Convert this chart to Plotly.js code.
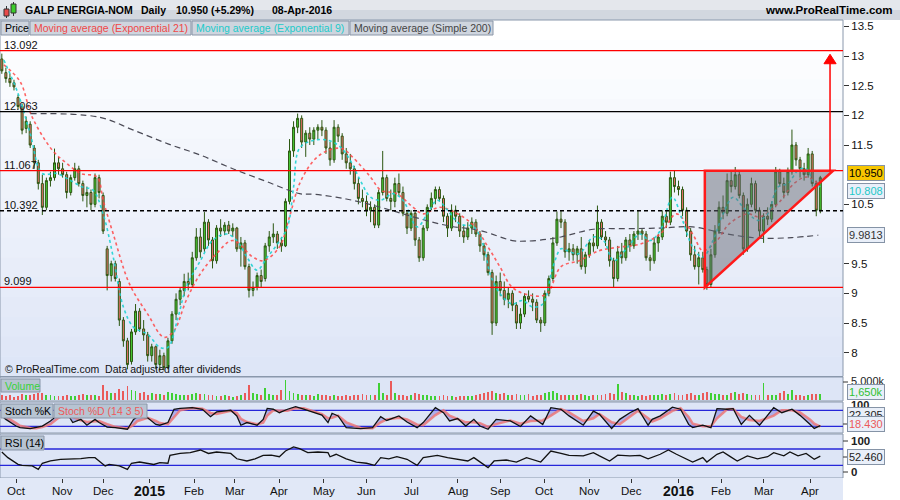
<!DOCTYPE html>
<html><head><meta charset="utf-8">
<script src="https://cdn.plot.ly/plotly-3.0.1.min.js"></script>
<style>html,body{margin:0;padding:0;background:#fff}#chart{width:900px;height:500px}</style>
</head><body><div id="chart"></div>
<script>
// ---------- DATA ----------
const startDate = '2014-09-22';   // first trading day shown
const nDays = 405;                // weekdays up to 08-Apr-2016
const monthLabels = ['Oct','Nov','Dec','2015','Feb','Mar','Apr','May','Jun','Jul','Aug','Sep','Oct','Nov','Dec','2016','Feb','Mar','Apr'];
// one candle per two trading days
const cOpen = [
12.95,12.72,12.62,12.55,12.30,12.15,11.78,11.85,11.45,11.20,
10.85,10.45,10.90,10.95,11.20,11.10,11.00,10.70,10.95,11.10,
10.85,10.65,10.70,10.50,10.95,10.65,9.75,9.30,9.50,9.20,
8.55,8.20,7.85,8.35,8.70,8.40,8.30,7.95,8.10,7.80,
7.95,7.75,8.20,8.65,8.90,9.05,9.20,9.15,9.60,9.95,
9.75,10.20,9.90,9.55,10.10,10.05,10.15,10.05,10.10,9.75,
9.85,9.45,9.05,9.10,9.30,9.25,9.80,9.95,10.00,9.85,
9.80,10.55,11.40,11.80,11.95,11.55,11.70,11.60,11.75,11.80,
11.75,11.45,11.25,11.80,11.65,11.35,11.20,11.10,10.85,10.60,
10.55,10.40,10.45,10.15,10.70,10.95,10.60,10.55,10.85,10.70,
10.35,10.10,10.35,9.90,9.60,10.10,10.45,10.60,10.75,10.60,
10.30,10.10,10.40,10.30,10.05,9.95,10.10,10.20,10.00,9.80,
9.65,9.35,8.50,9.20,9.05,8.90,9.00,8.80,8.50,8.65,
8.95,8.90,8.85,8.55,8.50,9.00,9.25,9.85,10.25,10.20,
9.70,9.75,9.65,9.75,9.45,9.65,9.85,9.80,10.20,9.95,
9.90,9.55,9.25,9.70,9.60,9.90,9.80,10.00,10.05,10.00,
9.60,9.55,9.85,9.95,10.30,10.20,10.95,10.80,10.75,10.40,
10.05,9.65,9.45,9.60,9.40,9.15,9.65,10.05,10.45,10.35,
10.90,10.80,11.00,10.65,9.75,10.50,10.85,10.40,10.05,10.30,
10.25,10.50,11.05,10.85,10.70,11.05,11.50,11.25,11.10,11.00,
11.35,10.85,10.40];
const cHigh = [
13.04,12.80,12.70,12.60,12.35,12.20,11.98,11.90,11.50,11.25,
11.00,10.95,11.05,11.44,11.30,11.20,11.05,11.00,11.20,11.15,
10.90,10.80,10.75,11.02,11.00,10.70,9.80,9.55,9.55,9.25,
8.60,8.25,8.40,8.82,8.75,8.55,8.35,8.15,8.12,8.05,
8.00,8.25,8.70,9.00,9.10,9.33,9.35,9.70,10.10,10.10,
10.37,10.25,9.95,10.15,10.25,10.20,10.22,10.18,10.12,9.95,
9.90,9.50,9.20,9.35,9.40,9.85,10.05,10.18,10.05,9.95,
10.60,11.60,11.90,12.03,12.00,11.75,11.80,11.80,11.85,11.92,
11.80,11.55,11.92,11.85,11.70,11.45,11.35,11.15,10.95,10.75,
10.65,10.55,10.50,10.75,11.40,11.00,10.75,10.95,11.02,10.80,
10.40,10.40,10.38,9.95,10.15,10.50,10.70,10.80,10.80,10.65,
10.35,10.50,10.48,10.35,10.15,10.20,10.28,10.25,10.05,9.85,
9.70,9.40,9.30,9.35,9.20,9.10,9.05,8.85,8.75,9.00,
9.05,9.00,8.90,8.60,9.05,9.30,9.95,10.38,10.40,10.25,
9.85,9.83,9.80,9.95,9.70,9.90,10.00,10.48,10.25,10.05,
9.95,9.60,9.80,9.85,9.95,10.00,10.05,10.40,10.10,10.05,
9.65,9.95,10.00,10.40,10.40,11.05,11.07,10.90,10.80,10.45,
10.10,9.80,9.70,9.70,9.45,9.75,10.15,10.55,10.65,11.02,
11.05,11.13,11.05,10.70,10.60,10.95,10.90,10.45,10.35,10.45,
10.55,11.13,11.10,10.95,11.12,11.76,11.55,11.30,11.20,11.45,
11.40,10.90,10.98];
const cLow = [
12.70,12.55,12.48,12.42,12.10,11.68,11.70,11.45,11.10,10.75,
10.32,10.40,10.80,10.90,11.00,10.95,10.60,10.65,10.90,10.80,
10.55,10.45,10.40,10.45,10.60,10.00,9.05,9.20,9.20,8.45,
8.10,7.72,7.80,8.30,8.35,8.20,7.85,7.85,7.72,7.70,
7.70,7.72,8.15,8.55,8.80,8.95,9.05,9.10,9.55,9.60,
9.70,9.80,9.42,9.50,9.95,9.98,10.00,9.95,9.70,9.45,
9.40,8.93,8.95,9.05,9.10,9.20,9.70,9.85,9.75,9.70,
9.78,10.50,11.30,11.70,11.45,11.30,11.50,11.50,11.60,11.65,
11.35,11.15,11.20,11.55,11.25,11.10,11.00,10.75,10.50,10.45,
10.30,10.20,10.10,10.10,10.65,10.55,10.40,10.45,10.65,10.30,
10.00,10.05,9.80,9.53,9.55,10.05,10.40,10.50,10.55,10.20,
9.95,10.05,10.20,9.95,9.85,9.90,10.00,9.95,9.70,9.55,
9.30,8.30,8.45,8.95,8.80,8.75,8.70,8.40,8.40,8.60,
8.85,8.70,8.50,8.35,8.45,8.95,9.20,9.80,10.10,9.60,
9.55,9.55,9.50,9.40,9.33,9.60,9.70,9.75,9.90,9.80,
9.45,9.10,9.20,9.50,9.55,9.70,9.75,9.90,9.90,9.55,
9.38,9.50,9.70,9.90,10.10,10.15,10.70,10.65,10.30,9.95,
9.55,9.40,9.15,9.35,9.06,9.10,9.60,10.00,10.25,10.30,
10.70,10.75,10.60,9.65,9.70,10.45,10.35,9.95,9.85,10.15,
10.20,10.45,10.80,10.60,10.65,11.00,11.15,10.95,10.90,10.95,
10.80,10.30,10.35];
const cClose = [
12.75,12.62,12.55,12.48,12.15,11.75,11.90,11.50,11.20,10.85,
10.45,10.90,10.95,11.20,11.10,11.00,10.70,10.95,11.10,10.85,
10.65,10.70,10.50,10.95,10.70,10.05,9.30,9.50,9.25,8.55,
8.20,7.80,8.35,8.70,8.40,8.30,7.95,8.10,7.80,7.95,
7.75,8.20,8.65,8.90,9.05,9.20,9.15,9.60,9.95,9.70,
10.20,9.90,9.55,10.10,10.05,10.15,10.05,10.10,9.75,9.85,
9.45,9.05,9.10,9.30,9.20,9.80,9.95,10.00,9.85,9.80,
10.55,11.40,11.80,11.95,11.55,11.70,11.60,11.75,11.80,11.75,
11.45,11.25,11.80,11.65,11.35,11.20,11.10,10.85,10.60,10.55,
10.40,10.45,10.15,10.70,10.95,10.60,10.55,10.85,10.70,10.35,
10.10,10.35,9.90,9.60,10.10,10.45,10.60,10.75,10.60,10.30,
10.10,10.40,10.30,10.05,9.95,10.10,10.20,10.00,9.80,9.65,
9.35,8.50,9.20,9.05,8.90,9.00,8.80,8.50,8.65,8.95,
8.90,8.85,8.55,8.50,9.00,9.25,9.85,10.25,10.20,9.70,
9.75,9.65,9.75,9.45,9.65,9.85,9.80,10.20,9.95,9.90,
9.55,9.25,9.70,9.60,9.90,9.80,10.00,10.05,10.00,9.60,
9.55,9.85,9.95,10.30,10.20,10.95,10.80,10.75,10.40,10.05,
9.65,9.45,9.60,9.40,9.15,9.65,10.05,10.45,10.35,10.90,
10.80,11.00,10.65,9.75,10.50,10.85,10.40,10.05,10.30,10.25,
10.50,11.05,10.85,10.70,11.05,11.50,11.25,11.10,11.00,11.35,
10.85,10.40,10.95];
const volumeK = [
1400,1100,1300,900,1200,1600,1300,1500,1700,1800,
2000,1500,1300,1200,1100,1000,1500,1200,1100,1300,
1600,1400,1500,1300,1200,4200,2500,1800,2000,3000,
2600,4000,2800,2400,1900,2200,1500,1800,1600,1700,
1500,2200,1800,1600,1500,1400,1300,1700,2000,1600,
1700,1500,1300,1200,1100,1300,1000,900,1200,1500,
1800,4200,2000,1600,1500,3300,1700,1500,1400,2800,
5500,2500,1800,1600,1500,1400,1300,1200,1600,1400,
1300,1200,1500,1100,1000,1300,1200,1400,1500,1600,
1300,1400,1300,4600,2000,1500,5300,1800,1500,1300,
1200,1400,1900,1700,1400,1300,1100,1000,1200,1300,
1200,1000,900,1100,1000,1200,1100,1400,1700,2000,
2200,2500,1800,1600,2000,1500,1400,1700,1300,1500,
1600,1200,1400,1500,1800,2200,2600,2000,1500,1400,
1400,1500,1300,1600,1500,1200,1400,1500,1300,1700,
1800,1600,4400,2200,1800,1500,1400,1200,1300,1100,
1500,1300,1400,1600,1500,1700,2000,1500,1300,1600,
1800,1400,1500,2000,2200,1800,1600,1700,1500,1400,
1800,2200,1600,2000,1600,1500,1400,1300,4800,1500,
1400,1300,1800,2600,1700,2800,1500,1300,1200,1500,
1600,1700,1650];
// moving averages (trading-day index, value)
const ema21Day = [1,9,15,25,32,39,47,50,55,63,72,80,85,91,98,106,114,124,129,137,142,147,154,161,168,173,182,187,195,203,208,216,225,233,240,246,252,262,269,276,285,295,305,315,325,333,341,346,353,359,368,374,383,391,397,403];
const ema21Val = [12.85,12.57,11.97,11.41,11.19,11.02,10.96,10.57,10.0,9.16,8.65,8.26,8.37,8.88,9.33,9.67,9.89,9.61,9.55,9.78,10.29,10.85,11.24,11.41,11.44,11.3,10.96,10.74,10.68,10.45,10.34,10.45,10.34,10.14,9.78,9.44,9.1,8.96,8.99,9.45,9.55,9.72,9.78,9.83,10.0,10.34,10.0,9.72,9.89,10.17,10.34,10.29,10.51,10.85,10.96,10.85];
const ema9Day = [1,8,14,20,27,34,40,45,50,55,60,65,72,78,82,87,91,98,104,111,116,121,126,131,136,141,144,147,154,161,167,172,177,182,187,193,198,205,210,215,220,226,233,238,241,246,252,257,262,267,272,276,279,285,292,297,302,309,315,320,325,331,336,341,346,351,356,361,366,373,378,383,388,393,397,402,404];
const ema9Val = [12.93,12.37,11.69,11.02,11.02,10.9,10.79,10.74,10.34,9.61,8.77,8.43,8.31,8.09,8.09,8.6,9.1,9.55,9.89,10.0,9.89,9.61,9.39,9.61,9.83,10.12,10.79,11.45,11.58,11.58,11.47,11.24,10.9,10.62,10.57,10.68,10.57,10.12,10.34,10.57,10.4,10.17,10.12,9.78,9.33,8.99,8.82,8.88,8.77,8.82,9.44,9.75,9.72,9.67,9.95,9.89,9.55,9.78,10.0,9.89,10.06,10.62,10.23,9.78,9.61,9.89,10.34,10.62,10.45,10.23,10.34,10.79,10.85,11.07,11.1,10.79,10.81];
const sma200Day = [14,48,65,82,98,114,131,147,154,170,187,203,220,236,252,259,269,276,292,309,325,341,358,374,390,403];
const sma200Val = [12.03,11.97,11.75,11.52,11.33,11.1,10.88,10.68,10.67,10.59,10.45,10.29,10.14,10.06,9.89,9.88,9.91,9.95,10.08,10.09,10.1,10.12,10.0,9.93,9.94,9.98];
// stochastic (14 3 5)
const stochDay = [0,2,7,9,14,17,20,24,28,32,35,39,42,46,48,52,56,62,65,67,72,76,78,82,85,88,94,99,103,106,113,116,118,121,126,129,131,134,137,141,145,149,154,158,161,163,166,170,177,183,187,190,196,200,205,208,214,218,221,225,229,233,236,240,244,251,256,261,267,271,276,280,287,292,295,301,305,310,314,319,321,325,331,335,339,341,346,350,353,358,361,365,369,374,381,385,390,394,399,401,404];
const stochK = [59,46,21,15,11,15,21,40,65,71,34,46,24,46,34,17,15,9,46,56,52,27,24,34,84,87,90,84,56,74,80,59,24,34,24,46,87,84,71,84,94,84,71,62,34,69,59,15,11,15,56,42,59,36,15,34,90,71,40,49,21,46,21,9,46,40,19,59,27,90,84,59,24,77,65,12,46,71,86,24,46,59,92,84,27,15,24,15,86,84,86,27,61,24,90,71,84,61,27,12,22.3];
const stochD = [62,55,32,22,14,13,17,28,52,66,55,42,36,38,40,28,18,12,25,40,52,40,32,28,55,80,89,86,70,66,78,70,48,36,28,34,60,80,78,78,88,88,76,66,50,52,60,35,14,13,35,46,52,46,26,24,62,80,60,48,35,35,32,18,28,42,30,40,42,60,84,72,40,50,66,35,28,56,78,50,38,50,78,88,55,30,20,20,50,84,85,55,44,40,60,80,80,72,45,30,18.43];
// RSI (14)
const rsiDay = [0,3,8,10,15,18,20,24,29,34,39,43,46,48,51,53,58,62,64,68,72,75,78,82,83,88,93,98,102,106,113,116,121,125,129,133,137,140,144,147,151,156,161,162,165,170,175,180,184,187,191,195,200,205,208,215,220,225,230,233,236,240,243,249,254,259,266,271,276,280,287,292,295,300,304,310,315,319,325,329,333,338,341,346,348,353,356,359,363,368,373,378,381,386,389,393,397,401,404];
const rsiVal = [62.6,48.8,32.4,30,28.4,20,35,40.6,44.7,44.7,46.3,48.8,48.8,40.6,28.4,32.4,28.4,20,35,38,35,32,36.5,35,54.5,59,61,67.5,59,62.6,59,46,40.6,46,54.5,55,51,65,75,71,61,62.6,61,51,57,46,38,35,30,48.8,46,51,44.7,30,48.8,54.5,48.8,44.7,40.6,48.8,38,24.3,40.6,43,38,48.8,38,65,59,54.5,53,61,53,40.6,55,53,54.5,46,57,67.5,57,44.7,38,48.8,38,57,62.6,53,40.6,53,46,51,61,53,62.6,53,59,44.7,52.46];
// reference levels and pattern
const levels = [13.092,12.063,11.067,10.392,9.099];
const levelColors = ['#ff0000','#000000','#ff0000','#000000','#ff0000'];
const triangleDays = [347,347,410.3];
const trianglePrices = [9.099,11.067,11.067];
const targetDay = 408.8, targetFrom = 11.067, targetTo = 13.03;
const priceTicks = [8,8.5,9,9.5,10.5,11.5,12,12.5,13,13.5];
const lastValues = {price:'10.950', ema9:'10.808', sma200:'9.9813', vol:'1,650k', volMax:'5,000k', stochK:'22.305', stochD:'18.430', rsi:'52.460'};
const titleParts = ['GALP ENERGIA-NOM','Daily','10.950 (+5.29%)','08-Apr-2016'];

// ---------- GEOMETRY ----------
const W=900,H=500, PR=843;
const fx=px=>px/W, fy=py=>1-py/H;
const FONT='Arial, Liberation Sans, sans-serif';

const days=[]; {let d=new Date(startDate+'T00:00:00Z'); while(days.length<nDays){const w=d.getUTCDay(); if(w>0&&w<6) days.push(new Date(d)); d.setUTCDate(d.getUTCDate()+1);} }
const monthIdx=[]; for(let i=1;i<days.length;i++){ if(days[i].getUTCMonth()!==days[i-1].getUTCMonth()) monthIdx.push(i); }
const cX = cClose.map((_,k)=>2*k);

const shapes=[], ann=[];
function rect(x0,y0,x1,y1,fill,line,layer,lw){shapes.push({type:'rect',xref:'paper',yref:'paper',x0:fx(x0),x1:fx(x1),y0:fy(y1),y1:fy(y0),fillcolor:fill,line:{color:line||'rgba(0,0,0,0)',width:line?(lw||1):0},layer:layer||'below'});}
function txt(px,py,text,size,color,opt){ann.push(Object.assign({xref:'paper',yref:'paper',x:fx(px),y:fy(py),xanchor:'left',yanchor:'middle',text:text,showarrow:false,font:{family:FONT,size:size,color:color}},opt||{}));}
function box(px,py,text,color,bg){ann.push({xref:'paper',yref:'paper',x:fx(px),y:fy(py),xanchor:'left',yanchor:'middle',text:text,showarrow:false,bgcolor:bg,bordercolor:'#8593a6',borderwidth:1,borderpad:1,font:{family:FONT,size:11,color:color}});}

// header bar
rect(0,0,900,10,'#e4e7ec'); rect(0,10,900,20,'#d2d7df');
// main panel gradient
const N=18; for(let b=0;b<N;b++){const t=b/(N-1); const c=[255-33*t,255-25*t,255-8*t].map(Math.round); rect(0,20+b*(356/N),PR,20+(b+1)*(356/N)+0.5,`rgb(${c})`);}
// lower panels
rect(0,377,PR,401,'#dde5f6','#8a98ac'); rect(0,402,PR,433,'#dde5f6','#8a98ac'); rect(0,434,PR,478,'#dde5f6','#8a98ac');
rect(0,478,PR,500,'#e1e8f7');
rect(0,20,PR,376.5,'rgba(0,0,0,0)','#8a98ac');
rect(0,376,PR,377,'#8a98ac');
// legend row boxes
[[1,29],[30,191],[192,349],[350,493]].forEach(b=>rect(b[0],21,b[1],35,'#cfd5de','#8a96a8','above'));
// panel label boxes
rect(1,379,40,392,'#b7c4d2','#8a96a8','above');
rect(1,404,53,418,'#b7c4d2','#8a96a8','above'); rect(54,404,147,418,'#b7c4d2','#8a96a8','above');
rect(1,436,44,450,'#b7c4d2','#8a96a8','above');
// icon
shapes.push({type:'line',xref:'paper',yref:'paper',x0:fx(6.5),x1:fx(6.5),y0:fy(18),y1:fy(6),line:{color:'#333',width:1}});
rect(4,9,9,16,'#e84a4a','#333','above');
shapes.push({type:'line',xref:'paper',yref:'paper',x0:fx(13.5),x1:fx(13.5),y0:fy(16),y1:fy(2),line:{color:'#333',width:1}});
rect(11,4,16,13,'#3ccc2c','#333','above');

// price levels
levels.forEach((v,i)=>shapes.push({type:'line',xref:'paper',yref:'y',x0:0,x1:fx(PR),y0:v,y1:v,line:{color:levelColors[i],width:1.3,dash:i===3?'4px,3px':'solid'},layer:'above'}));
// triangle
shapes.push({type:'path',xref:'x',yref:'y',path:`M ${triangleDays[0]},${trianglePrices[0]} L ${triangleDays[1]},${trianglePrices[1]} L ${triangleDays[2]},${trianglePrices[2]} Z`,fillcolor:'rgba(100,103,116,0.5)',line:{color:'#ff1a1a',width:2.5},layer:'above'});
// target arrow
shapes.push({type:'line',xref:'x',yref:'y',x0:targetDay,x1:targetDay,y0:targetFrom,y1:12.9,line:{color:'#ff0000',width:1.5},layer:'above'});
shapes.push({type:'path',xref:'x',yref:'y',path:`M ${targetDay-3},12.87 L ${targetDay+3},12.87 L ${targetDay},${targetTo} Z`,fillcolor:'#ff0000',line:{color:'#ff0000',width:1},layer:'above'});
// stoch / rsi guide lines
[80,20].forEach(v=>shapes.push({type:'line',xref:'paper',yref:'y3',x0:0,x1:fx(PR),y0:v,y1:v,line:{color:'#2626d9',width:1.3},layer:'below'}));
[70,30].forEach(v=>shapes.push({type:'line',xref:'paper',yref:'y4',x0:0,x1:fx(PR),y0:v,y1:v,line:{color:'#2626d9',width:1.3},layer:'below'}));

// header texts
[23,139,174,270].forEach((px,i)=>txt(px,10,'<b>'+titleParts[i]+'</b>',10.5,'#000'));
txt(895,10,'<b>www.ProRealTime.com</b>',11.5,'#000',{xanchor:'right'});
txt(3,28,'Price',10.5,'#000'); txt(32,28,'Moving average (Exponential 21)',10.5,'#f04848');
txt(194,28,'Moving average (Exponential 9)',10.5,'#22caca'); txt(352,28,'Moving average (Simple 200)',10.5,'#444');
// level labels
levels.forEach(v=>ann.push({xref:'paper',yref:'y',x:fx(2),y:v,xanchor:'left',yanchor:'bottom',yshift:-2,text:v.toFixed(3),showarrow:false,font:{family:FONT,size:11,color:'#111'}}));
txt(3,369,'© ProRealTime.com  Data adjusted after dividends',10.5,'#111');
// panel labels
txt(3,385.5,'Volume',10.5,'#36d236'); txt(3,411,'Stoch %K',10.5,'#000'); txt(56,411,'Stoch %D (14 3 5)',10.5,'#ec5a5a'); txt(3,443,'RSI (14)',10.5,'#000');
// right side labels
box(847,173,lastValues.price,'#000','#f7c600');
box(847,191,lastValues.ema9,'#1ec8c8','#e9eff9');
box(847,235,lastValues.sma200,'#333','#e9eff9');
txt(849,381,lastValues.volMax,11,'#222'); box(847,392,lastValues.vol,'#2fc02f','#e9eff9');
txt(849,405,'<b>100</b>',11,'#222'); box(847,415,lastValues.stochK,'#222','#e9eff9'); box(847,424,lastValues.stochD,'#ec5a5a','#e9eff9');
txt(849,441,'<b>100</b>',11.5,'#222'); box(847,457,lastValues.rsi,'#222','#e9eff9'); txt(849,472,'<b>0</b>',11.5,'#222');
[382,424,441,457,472].forEach(py=>shapes.push({type:'line',xref:'paper',yref:'paper',x0:fx(PR),x1:fx(PR+5),y0:fy(py),y1:fy(py),line:{color:'#333',width:1}}));
// month labels
monthIdx.forEach((ix,i)=>{const yr=/^\d{4}$/.test(monthLabels[i]); ann.push({xref:'x',yref:'paper',x:ix,y:fy(491),xanchor:'center',yanchor:'middle',text:yr?'<b>'+monthLabels[i]+'</b>':monthLabels[i],showarrow:false,font:{family:FONT,size:yr?14:11.5,color:'#111'}});});

// ---------- TRACES ----------
const traces=[
 {type:'candlestick',x:cX,open:cOpen,high:cHigh,low:cLow,close:cClose,xaxis:'x',yaxis:'y',
  increasing:{line:{color:'#2c5712',width:1},fillcolor:'#46c934'},decreasing:{line:{color:'#2c5712',width:1},fillcolor:'#e8706a'},whiskerwidth:0,hoverinfo:'skip',showlegend:false},
 {type:'scatter',mode:'lines',x:sma200Day,y:sma200Val,xaxis:'x',yaxis:'y',line:{color:'#4a4a55',width:1.2,dash:'6px,4px',shape:'spline'},hoverinfo:'skip',showlegend:false},
 {type:'scatter',mode:'lines',x:ema21Day,y:ema21Val,xaxis:'x',yaxis:'y',line:{color:'rgba(255,70,70,0.85)',width:1.6,dash:'3px,3px',shape:'spline'},hoverinfo:'skip',showlegend:false},
 {type:'scatter',mode:'lines',x:ema9Day,y:ema9Val,xaxis:'x',yaxis:'y',line:{color:'rgba(30,210,210,0.9)',width:1.6,dash:'3px,3px',shape:'spline'},hoverinfo:'skip',showlegend:false},
 {type:'bar',x:cX,y:volumeK,xaxis:'x',yaxis:'y2',width:0.9,marker:{color:cClose.map((c,k)=>c>=cOpen[k]?'#3fd034':'#ea5a5a'),line:{width:0}},hoverinfo:'skip',showlegend:false},
 {type:'scatter',mode:'lines',x:stochDay,y:stochD,xaxis:'x',yaxis:'y3',line:{color:'rgba(236,120,120,0.85)',width:2.5},hoverinfo:'skip',showlegend:false},
 {type:'scatter',mode:'lines',x:stochDay,y:stochK,xaxis:'x',yaxis:'y3',fill:'tonexty',fillcolor:'rgba(110,110,225,0.45)',line:{color:'#111',width:1.3},hoverinfo:'skip',showlegend:false},
 {type:'scatter',mode:'lines',x:rsiDay,y:rsiVal,xaxis:'x',yaxis:'y4',line:{color:'#111',width:1.3},hoverinfo:'skip',showlegend:false}
];

const xr=[-0.9,415.2];
const layout={width:W,height:H,margin:{l:0,r:0,t:0,b:0},paper_bgcolor:'#ffffff',plot_bgcolor:'rgba(0,0,0,0)',showlegend:false,bargap:0,
 xaxis:{domain:[0,fx(PR)],range:xr,anchor:'y4',tickvals:monthIdx,ticks:'outside',ticklen:4,tickcolor:'#333',showticklabels:false,showgrid:false,zeroline:false,showline:false,rangeslider:{visible:false},fixedrange:true},
 yaxis:{domain:[fy(376),fy(20)],range:[7.607,13.607],side:'right',anchor:'x',tickvals:priceTicks,ticktext:priceTicks.map(String),ticks:'outside',ticklen:5,tickcolor:'#333',tickfont:{family:FONT,size:11.5,color:'#111'},showgrid:false,zeroline:false},
 yaxis2:{domain:[fy(400),fy(379)],range:[0,5800],anchor:'x',showticklabels:false,showgrid:false,zeroline:false},
 yaxis3:{domain:[fy(432),fy(403)],range:[-1.4,107.4],anchor:'x',showticklabels:false,showgrid:false,zeroline:false},
 yaxis4:{domain:[fy(478),fy(435.5)],range:[-1.2,103.1],anchor:'x',showticklabels:false,showgrid:false,zeroline:false},
 shapes:shapes,annotations:ann};
Plotly.newPlot('chart',traces,layout,{staticPlot:true,displayModeBar:false});
</script></body></html>
